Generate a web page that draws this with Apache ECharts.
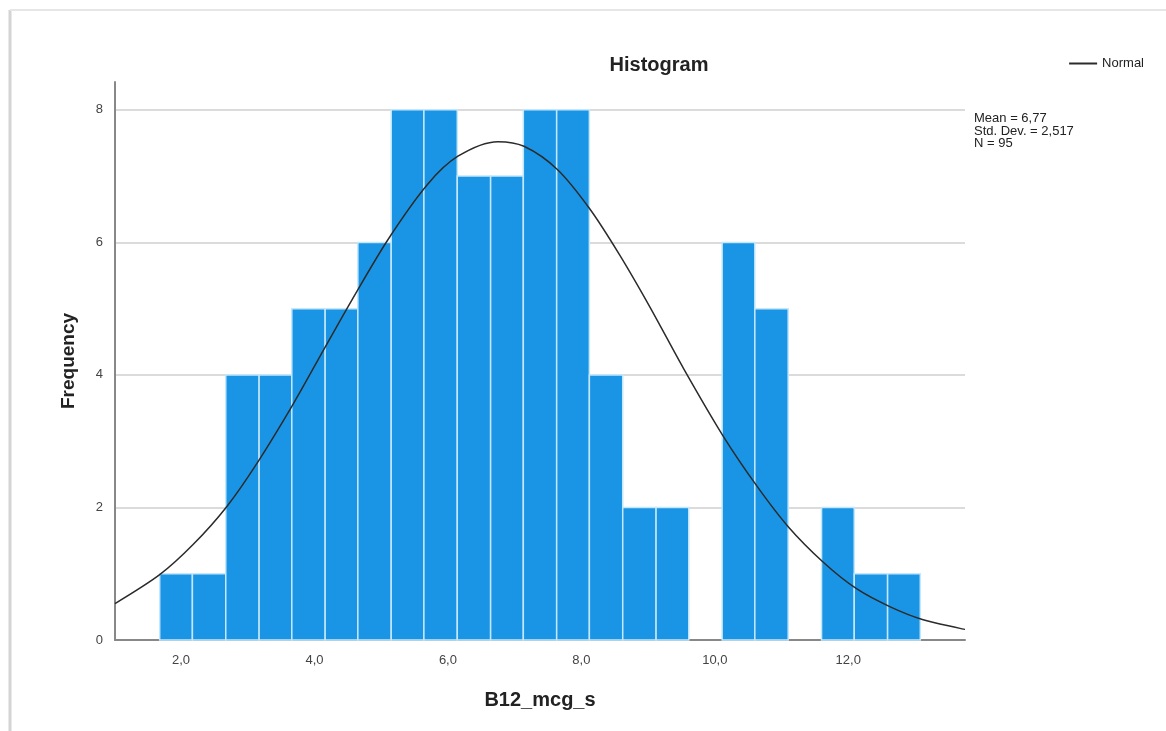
<!DOCTYPE html>
<html>
<head>
<meta charset="utf-8">
<title>Histogram</title>
<script src="https://cdn.jsdelivr.net/npm/echarts@6/dist/echarts.min.js"></script>
<style>
  html, body { margin: 0; padding: 0; background: #fff; }
  #chart { width: 1166px; height: 731px; }
</style>
</head>
<body>
<div id="chart"></div>
<script>
// bin edges (B12_mcg_s) and counts per bin
const binEdges = [1.68, 2.17, 2.67, 3.17, 3.66, 4.16, 4.65, 5.15, 5.64, 6.14, 6.64, 7.13,
  7.63, 8.12, 8.62, 9.12, 9.61, 10.11, 10.60, 11.10, 11.60, 12.09, 12.59, 13.08]
const counts = [1, 1, 4, 4, 5, 5, 6, 8, 8, 7, 7, 8, 8, 4, 2, 2, 0, 6, 5, 0, 2, 1, 1]

// normal curve
const normalX = [1.01, 1.685, 2.18, 2.675, 3.14, 3.68, 4.16, 4.56, 5.10, 5.69, 6.15, 6.75,
  7.14, 7.64, 8.13, 8.58, 9.03, 9.53, 10.13, 10.64, 11.10, 11.63, 12.13, 12.63, 13.11, 13.75]
const normalY = [0.55, 0.99, 1.44, 2.0, 2.67, 3.56, 4.42, 5.13, 6.04, 6.87, 7.3, 7.52,
  7.45, 7.1, 6.5, 5.8, 5.02, 4.1, 3.07, 2.31, 1.71, 1.17, 0.77, 0.5, 0.31, 0.16]

const xTicks = [2, 4, 6, 8, 10, 12]
const statLines = ['Mean = 6,77', 'Std. Dev. = 2,517', 'N = 95']

let myChart = echarts.init(document.getElementById('chart'))

let bins = counts.map(function (c, i) {
  return [binEdges[i], binEdges[i + 1], c]
})

let option = {
  backgroundColor: '#fff',
  animation: false,
  textStyle: { fontFamily: 'Liberation Sans, Arial, sans-serif' },
  title: {
    text: 'Histogram',
    left: 654,
    top: 50,
    textAlign: 'center',
    textStyle: { fontSize: 20, fontWeight: 'bold', color: '#222' }
  },
  legend: {
    right: 17,
    top: 52,
    itemWidth: 28,
    itemHeight: 2,
    itemGap: 4,
    data: [{ name: 'Normal', icon: 'rect' }],
    textStyle: { fontSize: 13, color: '#222' }
  },
  grid: { left: 115, right: 201, top: 82, bottom: 91 },
  xAxis: {
    type: 'value',
    min: 1.01,
    max: 13.75,
    name: 'B12_mcg_s',
    nameLocation: 'middle',
    nameGap: 50,
    nameTextStyle: { fontSize: 20, fontWeight: 'bold', color: '#222' },
    axisLine: { lineStyle: { color: '#888', width: 2 } },
    axisTick: { show: false },
    splitLine: { show: false },
    axisLabel: {
      customValues: xTicks,
      color: '#444',
      fontSize: 13,
      margin: 14,
      formatter: function (v) { return v.toFixed(1).replace('.', ',') }
    }
  },
  yAxis: {
    type: 'value',
    min: 0,
    max: 8.42,
    interval: 2,
    name: 'Frequency',
    nameLocation: 'middle',
    nameGap: 37,
    nameTextStyle: { fontSize: 19, fontWeight: 'bold', color: '#222' },
    axisLine: { show: true, lineStyle: { color: '#888', width: 2 } },
    axisTick: { show: false },
    axisLabel: { color: '#444', fontSize: 13, margin: 12, showMaxLabel: false, padding: [6, 0, 0, 0] },
    splitLine: { showMaxLine: false, lineStyle: { color: '#cfcfcf', width: 1.5 } }
  },
  series: [
    {
      name: 'bins',
      type: 'custom',
      data: bins,
      encode: { x: [0, 1], y: 2 },
      renderItem: function (params, api) {
        if (!api.value(2)) return null
        let p0 = api.coord([api.value(0), 0])
        let p1 = api.coord([api.value(1), api.value(2)])
        return {
          type: 'rect',
          shape: { x: p0[0], y: p1[1], width: p1[0] - p0[0], height: p0[1] - p1[1] },
          style: { fill: '#1a95e6', stroke: '#c4e7fb', lineWidth: 1.5 }
        }
      },
      z: 2
    },
    {
      name: 'Normal',
      type: 'line',
      smooth: 0.3,
      symbol: 'none',
      data: normalX.map(function (x, i) { return [x, normalY[i]] }),
      lineStyle: { color: '#2b2b2b', width: 1.5 },
      itemStyle: { color: '#2b2b2b' },
      z: 5
    }
  ],
  graphic: [
    {
      type: 'text',
      left: 974,
      top: 112,
      style: {
        text: statLines.join('\n'),
        fontSize: 13,
        lineHeight: 12.5,
        fill: '#222',
        fontFamily: 'Liberation Sans, Arial, sans-serif'
      }
    },
    {
      type: 'line',
      shape: { x1: 10, y1: 10, x2: 10, y2: 731 },
      style: { stroke: '#d4d4d4', lineWidth: 3 }
    },
    {
      type: 'line',
      shape: { x1: 10, y1: 10, x2: 1166, y2: 10 },
      style: { stroke: '#e6e6e6', lineWidth: 2 }
    }
  ]
}
myChart.setOption(option, true)
</script>
</body>
</html>
